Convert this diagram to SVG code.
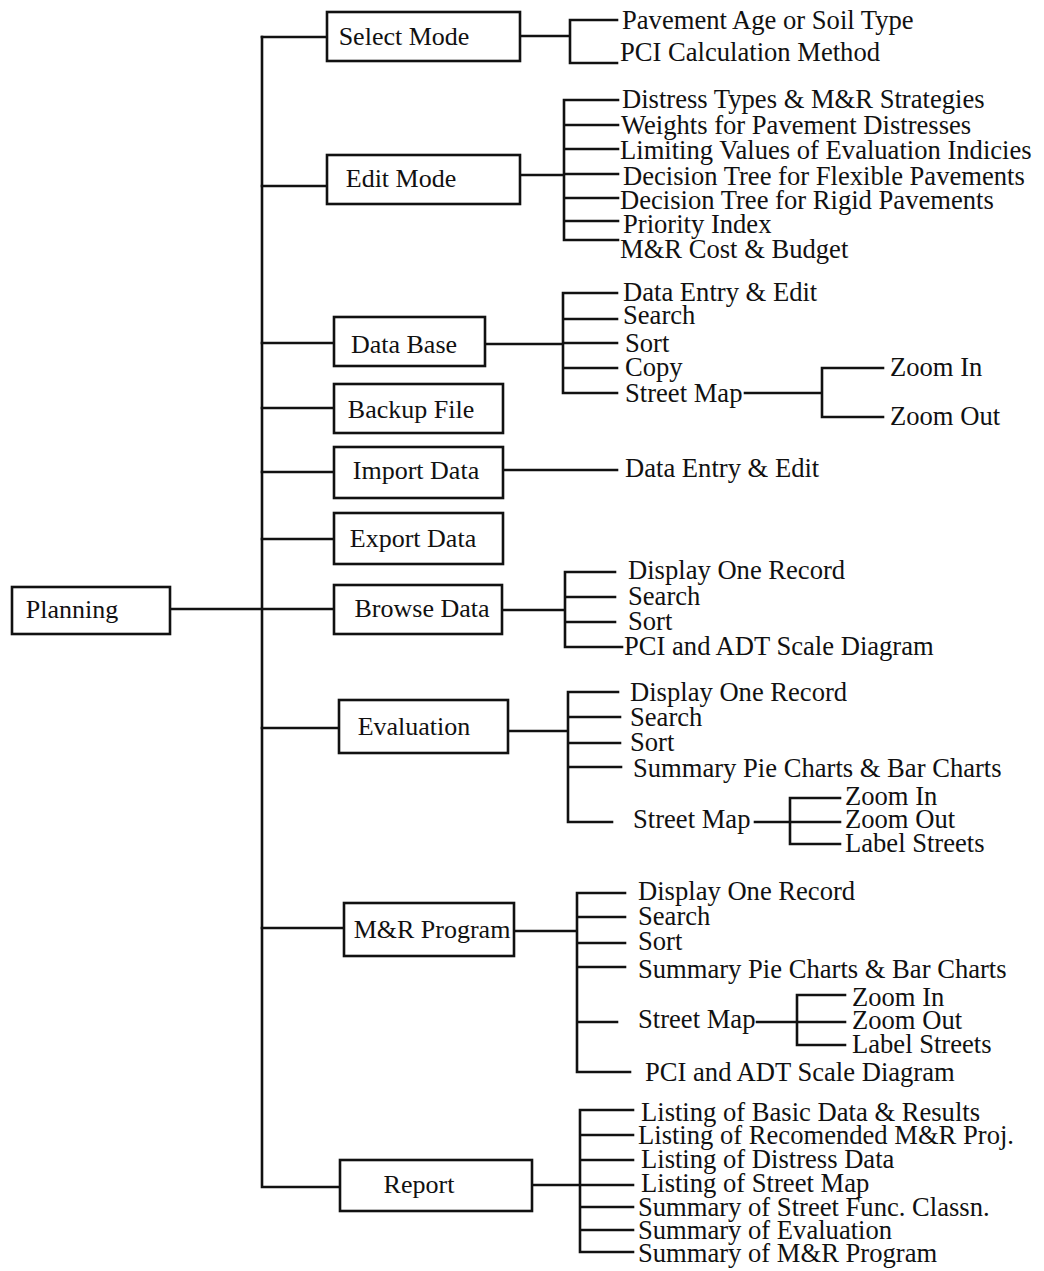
<svg xmlns="http://www.w3.org/2000/svg" width="1044" height="1271" viewBox="0 0 1044 1271">
<style>
.box{fill:#fff;stroke:#111;stroke-width:2.6}
.bt{font-family:"Liberation Serif","Times New Roman",serif;font-size:26px;fill:#111;text-anchor:middle}
.lt{font-family:"Liberation Serif","Times New Roman",serif;font-size:26.6px;fill:#111}
.c{fill:none;stroke:#111;stroke-width:2.6;stroke-linecap:square}
</style>
<rect width="1044" height="1271" fill="#fff"/>
<g id="connectors">
<path class="c" d="M262,37 V1187 H340"/>
<path class="c" d="M170,609 H334"/>
<path class="c" d="M262,37 H327 M262,186 H327 M262,343 H334 M262,408 H334 M262,472 H334 M262,539 H334 M262,728 H339 M262,928 H344"/>
<path class="c" d="M520,36 H570 M570,20 V63 M570,20 H617 M570,63 H617"/>
<path class="c" d="M520,175 H564 M564,100 V240 M564,100 H618 M564,125 H618 M564,149 H618 M564,174 H618 M564,198 H618 M564,221 H618 M564,240 H618"/>
<path class="c" d="M485,344 H563 M563,293 V393 M563,293 H617 M563,319 H617 M563,343 H617 M563,368 H617 M563,393 H617"/>
<path class="c" d="M745,393 H822 M822,368 V417 M822,368 H883 M822,417 H883"/>
<path class="c" d="M503,470 H617"/>
<path class="c" d="M502,610 H565 M565,572 V647 M565,572 H615 M565,597 H615 M565,622 H615 M565,647 H622"/>
<path class="c" d="M508,731 H568 M568,692 V822 M568,692 H618 M568,717 H620 M568,743 H620 M568,767 H621 M568,822 H612"/>
<path class="c" d="M755,822 H790 M790,798 V844 M790,798 H840 M790,822 H840 M790,844 H840"/>
<path class="c" d="M514,931 H577 M577,893 V1072 M577,893 H625 M577,917 H625 M577,943 H625 M577,967 H625 M577,1022 H617 M577,1072 H630"/>
<path class="c" d="M757,1022 H797 M797,995 V1045 M797,995 H845 M797,1022 H845 M797,1045 H845"/>
<path class="c" d="M532,1185 H580 M580,1110 V1252 M580,1110 H633 M580,1135 H633 M580,1160 H633 M580,1185 H633 M580,1207 H633 M580,1230 H633 M580,1252 H633"/>
</g>
<g id="planning"><rect class="box" x="12" y="587" width="158" height="47"/><text class="bt" x="72" y="618">Planning</text></g>
<g id="select-mode"><rect class="box" x="327" y="12" width="193" height="49"/><text class="bt" x="404" y="45">Select Mode</text></g>
<g id="edit-mode"><rect class="box" x="327" y="155" width="193" height="49"/><text class="bt" x="401" y="187">Edit Mode</text></g>
<g id="data-base"><rect class="box" x="334" y="317" width="151" height="49"/><text class="bt" x="404" y="353">Data Base</text></g>
<g id="backup-file"><rect class="box" x="334" y="384" width="169" height="49"/><text class="bt" x="411" y="418">Backup File</text></g>
<g id="import-data"><rect class="box" x="334" y="447" width="169" height="51"/><text class="bt" x="416" y="479">Import Data</text></g>
<g id="export-data"><rect class="box" x="334" y="513" width="169" height="51"/><text class="bt" x="413" y="547">Export Data</text></g>
<g id="browse-data"><rect class="box" x="334" y="585" width="168" height="49"/><text class="bt" x="422" y="617">Browse Data</text></g>
<g id="evaluation"><rect class="box" x="339" y="700" width="169" height="53"/><text class="bt" x="414" y="735">Evaluation</text></g>
<g id="mr-program"><rect class="box" x="344" y="903" width="170" height="53"/><text class="bt" x="432" y="938">M&amp;R Program</text></g>
<g id="report"><rect class="box" x="340" y="1160" width="192" height="51"/><text class="bt" x="419" y="1193">Report</text></g>

<g id="sm-1"><text class="lt" x="622" y="29">Pavement Age or Soil Type</text></g>
<g id="sm-2"><text class="lt" x="620" y="61">PCI Calculation Method</text></g>

<g id="em-1"><text class="lt" x="622" y="108">Distress Types &amp; M&amp;R Strategies</text></g>
<g id="em-2"><text class="lt" x="621" y="134">Weights for Pavement Distresses</text></g>
<g id="em-3"><text class="lt" x="620" y="159">Limiting Values of Evaluation Indicies</text></g>
<g id="em-4"><text class="lt" x="623" y="185">Decision Tree for Flexible Pavements</text></g>
<g id="em-5"><text class="lt" x="620" y="209">Decision Tree for Rigid Pavements</text></g>
<g id="em-6"><text class="lt" x="623" y="233">Priority Index</text></g>
<g id="em-7"><text class="lt" x="620" y="258">M&amp;R Cost &amp; Budget</text></g>

<g id="db-1"><text class="lt" x="623" y="301">Data Entry &amp; Edit</text></g>
<g id="db-2"><text class="lt" x="623" y="324">Search</text></g>
<g id="db-3"><text class="lt" x="625" y="352">Sort</text></g>
<g id="db-4"><text class="lt" x="625" y="376">Copy</text></g>
<g id="db-5"><text class="lt" x="625" y="402">Street Map</text></g>
<g id="db-5-1"><text class="lt" x="890" y="376">Zoom In</text></g>
<g id="db-5-2"><text class="lt" x="890" y="425">Zoom Out</text></g>

<g id="im-1"><text class="lt" x="625" y="477">Data Entry &amp; Edit</text></g>

<g id="bd-1"><text class="lt" x="628" y="579">Display One Record</text></g>
<g id="bd-2"><text class="lt" x="628" y="605">Search</text></g>
<g id="bd-3"><text class="lt" x="628" y="630">Sort</text></g>
<g id="bd-4"><text class="lt" x="624" y="655">PCI and ADT Scale Diagram</text></g>

<g id="ev-1"><text class="lt" x="630" y="701">Display One Record</text></g>
<g id="ev-2"><text class="lt" x="630" y="726">Search</text></g>
<g id="ev-3"><text class="lt" x="630" y="751">Sort</text></g>
<g id="ev-4"><text class="lt" x="633" y="777">Summary Pie Charts &amp; Bar Charts</text></g>
<g id="ev-5"><text class="lt" x="633" y="828">Street Map</text></g>
<g id="ev-5-1"><text class="lt" x="845" y="805">Zoom In</text></g>
<g id="ev-5-2"><text class="lt" x="845" y="828">Zoom Out</text></g>
<g id="ev-5-3"><text class="lt" x="845" y="852">Label Streets</text></g>

<g id="mr-1"><text class="lt" x="638" y="900">Display One Record</text></g>
<g id="mr-2"><text class="lt" x="638" y="925">Search</text></g>
<g id="mr-3"><text class="lt" x="638" y="950">Sort</text></g>
<g id="mr-4"><text class="lt" x="638" y="978">Summary Pie Charts &amp; Bar Charts</text></g>
<g id="mr-5"><text class="lt" x="638" y="1028">Street Map</text></g>
<g id="mr-5-1"><text class="lt" x="852" y="1006">Zoom In</text></g>
<g id="mr-5-2"><text class="lt" x="852" y="1029">Zoom Out</text></g>
<g id="mr-5-3"><text class="lt" x="852" y="1053">Label Streets</text></g>
<g id="mr-6"><text class="lt" x="645" y="1081">PCI and ADT Scale Diagram</text></g>

<g id="rp-1"><text class="lt" x="641" y="1121">Listing of Basic Data &amp; Results</text></g>
<g id="rp-2"><text class="lt" x="638" y="1144">Listing of Recomended M&amp;R Proj.</text></g>
<g id="rp-3"><text class="lt" x="641" y="1168">Listing of Distress Data</text></g>
<g id="rp-4"><text class="lt" x="641" y="1192">Listing of Street Map</text></g>
<g id="rp-5"><text class="lt" x="638" y="1216">Summary of Street Func. Classn.</text></g>
<g id="rp-6"><text class="lt" x="638" y="1239">Summary of Evaluation</text></g>
<g id="rp-7"><text class="lt" x="638" y="1262">Summary of M&amp;R Program</text></g>
</svg>
